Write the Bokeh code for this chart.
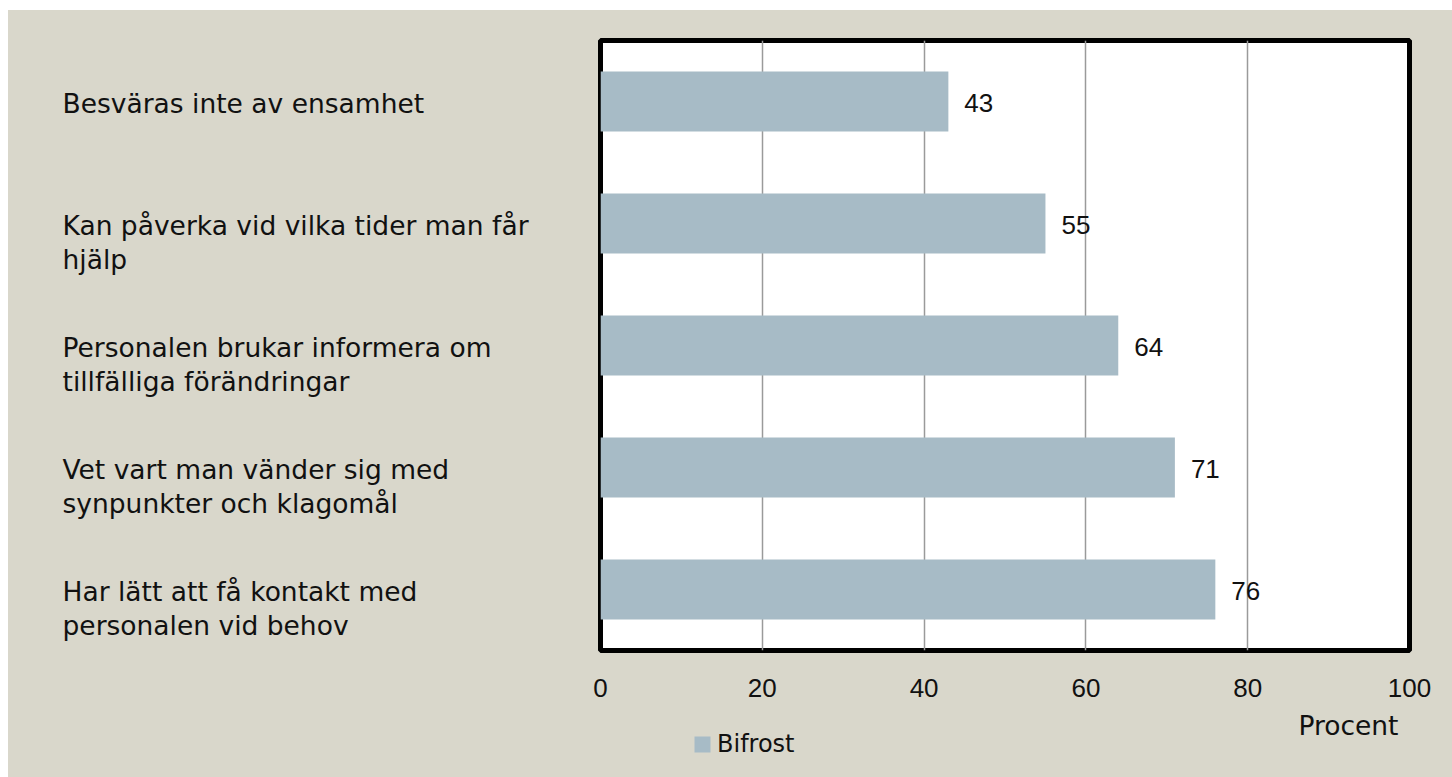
from bokeh.plotting import figure
from bokeh.models import ColumnDataSource, FactorRange, Range1d, FixedTicker, Label
from bokeh.layouts import row, column
from bokeh.core.properties import value
from bokeh.embed import file_html
from bokeh.resources import INLINE

# ---- data ----
categories = [
    "Besväras inte av ensamhet",
    "Kan påverka vid vilka tider man får\nhjälp",
    "Personalen brukar informera om\ntillfälliga förändringar",
    "Vet vart man vänder sig med\nsynpunkter och klagomål",
    "Har lätt att få kontakt med\npersonalen vid behov",
]
values = [43, 55, 64, 71, 76]
series_name = "Bifrost"
x_ticks = [0, 20, 40, 60, 80, 100]
x_title = "Procent"

# ---- style ----
BG = "#D9D7CB"
BAR = "#A7BBC6"
TXT = "#111111"
H_MAIN = 700
H_BOTTOM = 67
TOP = 30
BOTTOM = 60
LEFT_W = 582
RIGHT_W = 862

y_range = FactorRange(factors=categories[::-1])
x_range = Range1d(0, 100)

# ---- left panel: category labels ----
left = figure(width=LEFT_W, height=H_MAIN, y_range=y_range, x_range=Range1d(0, LEFT_W),
              x_axis_location=None, y_axis_location=None,
              output_backend="svg", toolbar_location=None,
              min_border_left=0, min_border_right=0,
              min_border_top=TOP, min_border_bottom=BOTTOM,
              background_fill_color=BG, border_fill_color=BG,
              outline_line_color=None)
left.grid.visible = False

lab_y, lab_text, lab_off = [], [], []
for c in categories:
    for i, line in enumerate(c.split("\n")):
        lab_y.append(c)
        lab_text.append(line)
        lab_off.append(2 + 34 * i)
lab_src = ColumnDataSource(dict(y=lab_y, text=lab_text, off=lab_off))
left.text(x=54, y="y", text="text", y_offset="off", source=lab_src,
          text_align="left", text_baseline="alphabetic",
          text_font=value("DejaVu Sans"), text_font_size="26.5px", text_color=TXT)

# ---- right panel: bars ----
p = figure(width=RIGHT_W, height=H_MAIN, y_range=y_range, x_range=x_range,
           y_axis_location=None, output_backend="svg", toolbar_location=None,
           min_border_left=10, min_border_right=43,
           min_border_top=TOP, min_border_bottom=BOTTOM,
           background_fill_color="white", border_fill_color=BG,
           outline_line_color="black", outline_line_width=5)

src = ColumnDataSource(dict(cat=categories, val=values, lbl=[str(v) for v in values]))
p.hbar(y="cat", left=0, right="val", height=0.49, source=src,
       fill_color=BAR, line_color=None)

p.text(x="val", y="cat", text="lbl", source=src, x_offset=16, y_offset=1,
       text_align="left", text_baseline="alphabetic",
       text_font=value("Liberation Sans"), text_font_size="26px", text_color=TXT)

p.xaxis.ticker = FixedTicker(ticks=x_ticks)
p.xaxis.major_tick_out = 0
p.xaxis.major_tick_in = 0
p.xaxis.minor_tick_out = 0
p.xaxis.minor_tick_in = 0
p.xaxis.axis_line_color = None
p.xaxis.major_label_standoff = 28
p.xaxis.major_label_text_font = "Liberation Sans"
p.xaxis.major_label_text_font_size = "26px"
p.xaxis.major_label_text_color = TXT

p.xgrid.grid_line_color = "#9a9a9a"
p.xgrid.grid_line_width = 1.5
p.ygrid.visible = False

# ---- bottom strip: axis title and legend ----
b = figure(width=RIGHT_W, height=H_BOTTOM, x_range=x_range, y_range=Range1d(0, 100),
           x_axis_location=None, y_axis_location=None,
           output_backend="svg", toolbar_location=None,
           min_border_left=10, min_border_right=43, min_border_top=0, min_border_bottom=0,
           background_fill_color=BG, border_fill_color=BG, outline_line_color=None)
b.grid.visible = False

# legend key: zero-width bars (nothing drawn in the strip), same fill as the series
key = b.hbar(y="val", left=0, right=0, height=1, source=src,
             fill_color=BAR, line_color=None, legend_label=series_name)
lg = b.legend[0]
lg.location = (92, 19)
lg.padding = 0
lg.margin = 0
lg.border_line_color = None
lg.background_fill_alpha = 0
lg.glyph_width = 20
lg.glyph_height = 20
lg.label_height = 20
lg.label_standoff = 5
lg.label_text_font = "DejaVu Sans"
lg.label_text_font_size = "24px"
lg.label_text_color = TXT

b.add_layout(Label(x=x_range.end, y=52, y_units="screen", text=x_title, x_offset=-11,
                   text_align="right", text_baseline="alphabetic",
                   text_font="DejaVu Sans", text_font_size="26.5px", text_color=TXT))

layout = row(left, column(p, b), margin=(10, 0, 0, 8), styles={"background-color": BG})
open("out.html", "w").write(file_html(layout, INLINE))
